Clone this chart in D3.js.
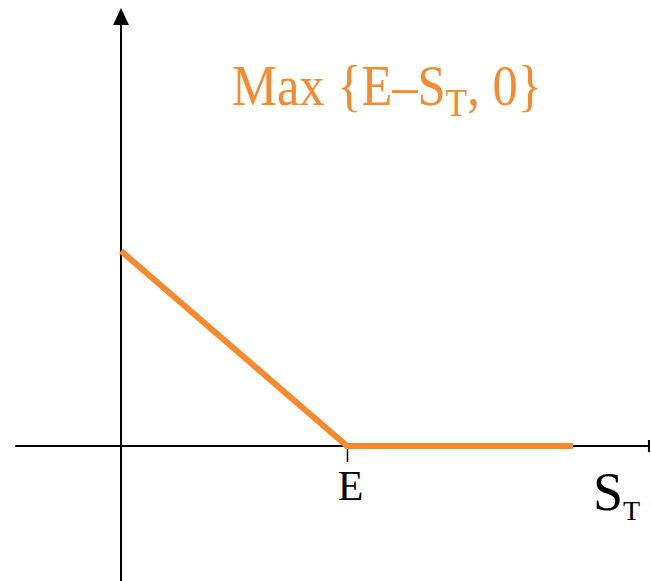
<!DOCTYPE html>
<html>
<head>
<meta charset="utf-8">
<script src="https://cdn.jsdelivr.net/npm/d3@7"></script>
<style>
  body { margin: 0; background: #fff; }
  svg text { font-family: "Liberation Serif", "DejaVu Serif", serif; }
</style>
</head>
<body>
<div id="chart"></div>
<script>
// Put option payoff: max(E - S_T, 0)
const strike = 50;
const payoffS = [0, 50, 100];
const payoffV = [50, 0, 0];
const tickLabels = ['E'];

const width = 651;
const height = 581;
const orange = '#F7892F';

const svg = d3.select('#chart')
    .append('svg')
    .attr('width', width)
    .attr('height', height);

// Scales (origin at 121,446)
const x = d3.scaleLinear().domain([0, 100]).range([121, 573]);
const y = d3.scaleLinear().domain([0, 50]).range([446, 251]);

// x axis line
svg.append('line')
    .attr('x1', x(-23.4)).attr('x2', x(116.8))
    .attr('y1', y(0)).attr('y2', y(0))
    .style('stroke', '#000').style('stroke-width', 2);

// end tick on the x axis
svg.append('line')
    .attr('x1', x(116.8)).attr('x2', x(116.8))
    .attr('y1', y(0) - 6).attr('y2', y(0) + 6)
    .style('stroke', '#000').style('stroke-width', 2);

// y axis line with arrow
svg.append('line')
    .attr('x1', x(0)).attr('x2', x(0))
    .attr('y1', y(-35)).attr('y2', y(108.5))
    .style('stroke', '#000').style('stroke-width', 2);

const tipY = y(112.3);
svg.append('path')
    .attr('d', `M${x(0)},${tipY} L${x(0) - 8},${tipY + 17} L${x(0) + 8},${tipY + 17} Z`)
    .style('fill', '#000');

// strike tick
const xAxis = d3.axisBottom(x)
    .tickValues([strike])
    .tickFormat((d, i) => tickLabels[i])
    .tickSize(16)
    .tickPadding(8);

const axisG = svg.append('g')
    .attr('transform', `translate(0,${y(0)})`)
    .call(xAxis);
axisG.select('.domain').remove();
axisG.selectAll('.tick line').style('stroke', '#000').style('stroke-width', 1.5);
axisG.selectAll('.tick text')
    .style('font-family', '"Liberation Serif", serif')
    .style('font-size', '42px')
    .style('fill', '#000')
    .attr('dx', 3);

// payoff line
const line = d3.line()
    .x((d, i) => x(payoffS[i]))
    .y((d, i) => y(payoffV[i]));

svg.append('path')
    .datum(payoffS)
    .attr('d', line)
    .style('fill', 'none')
    .style('stroke', orange)
    .style('stroke-width', 6);

// x axis label S_T
const xl = svg.append('text')
    .attr('x', 593)
    .attr('y', 510)
    .style('font-size', '54px')
    .style('fill', '#000');
xl.append('tspan').text('S');
xl.append('tspan').attr('dy', 10).style('font-size', '28px').text('T');

// title, fitted horizontally to the reference width
const title = svg.append('text')
    .attr('x', 0)
    .attr('y', 0)
    .style('font-size', '57px')
    .style('fill', orange);
title.append('tspan').text('Max {E\u2013S');
title.append('tspan').attr('dy', 11).style('font-size', '40px').text('T');
title.append('tspan').attr('dy', -11).text(', 0}');

const tb = title.node().getBBox();
const sx = 310 / tb.width;
title.attr('transform', `translate(${232 - tb.x * sx},105) scale(${sx},1)`);
</script>
</body>
</html>
